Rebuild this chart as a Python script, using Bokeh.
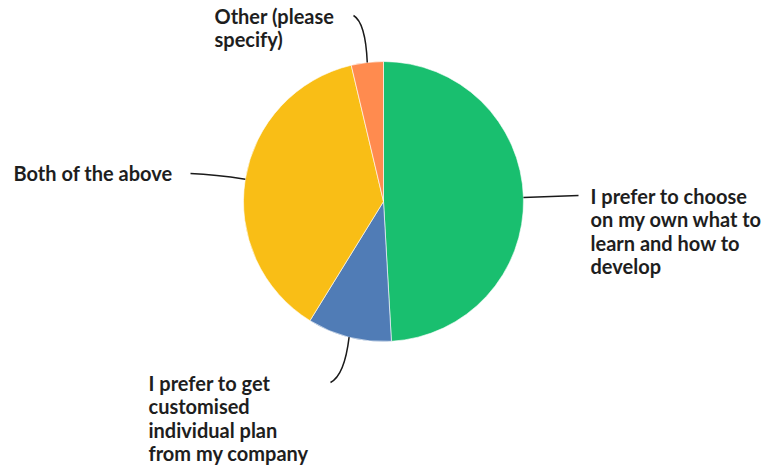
import math
from bokeh.plotting import figure
from bokeh.models import Range1d, ColumnDataSource
from bokeh.core.properties import value
from bokeh.embed import file_html
from bokeh.resources import INLINE

# ---- data ----
categories = [
    "I prefer to choose\non my own what to\nlearn and how to\ndevelop",
    "I prefer to get\ncustomised\nindividual plan\nfrom my company",
    "Both of the above",
    "Other (please\nspecify)",
]
shares = [49.1, 9.7, 37.5, 3.7]
colors = ["#19BF6F", "#507CB6", "#F9BE16", "#FF8B4F"]

# ---- layout (pixels, y downward) ----
W, H = 766, 468
CX, CY, R = 383, 201, 140
FONT = "Lato"
FS = 20
LINE_H = 23.4
# label anchor (left x, first-line centre y), leader end, leader control
label_pos = [(590, 195.5), (148, 382.5), (13, 172), (214, 15)]
leader_end = [(578, 195), (330, 382), (190, 173), (353, 15)]
leader_ctl = [(550, 196), (344, 375), (215, 174), (365, 22)]

def fy(y):
    return H - y

p = figure(width=W, height=H, output_backend="svg", toolbar_location=None,
           x_range=Range1d(0, W), y_range=Range1d(0, H),
           min_border=0, outline_line_color=None)
p.axis.visible = False
p.grid.visible = False
p.background_fill_color = "white"
p.border_fill_color = "white"

total = sum(shares)
starts, ends, mids = [], [], []
cum = 0.0
for s in shares:
    a0 = cum / total
    cum += s
    a1 = cum / total
    starts.append(math.pi / 2 - a0 * 2 * math.pi)
    ends.append(math.pi / 2 - a1 * 2 * math.pi)
    mids.append((a0 + a1) / 2 * 2 * math.pi)  # clockwise from top

src = ColumnDataSource(dict(x=[CX] * len(shares), y=[fy(CY)] * len(shares),
                            start=starts, end=ends, color=colors))
p.wedge(x="x", y="y", radius=R, radius_units="screen", start_angle="start",
        end_angle="end", direction="clock", fill_color="color",
        line_color="white", line_width=0.6, source=src)

# leader lines
x0s, y0s, x1s, y1s, cxs, cys = [], [], [], [], [], []
for i, m in enumerate(mids):
    sx = CX + R * math.sin(m)
    sy = CY - R * math.cos(m)
    x0s.append(sx); y0s.append(fy(sy))
    x1s.append(leader_end[i][0]); y1s.append(fy(leader_end[i][1]))
    cxs.append(leader_ctl[i][0]); cys.append(fy(leader_ctl[i][1]))
p.quadratic(x0=x0s, y0=y0s, x1=x1s, y1=y1s, cx=cxs, cy=cys,
            line_color="#1a1a1a", line_width=1.5)

# labels
tx, ty, tt = [], [], []
for i, lab in enumerate(categories):
    lx, ly = label_pos[i]
    for j, line in enumerate(lab.split("\n")):
        tx.append(lx); ty.append(fy(ly + j * LINE_H)); tt.append(line)
p.text(x=tx, y=ty, text=tt, text_font=value(FONT), text_font_style="bold",
       text_font_size=f"{FS}px", text_baseline="middle", text_align="left",
       text_color="#1e1e1e")

open("out.html", "w").write(file_html(p, INLINE))
